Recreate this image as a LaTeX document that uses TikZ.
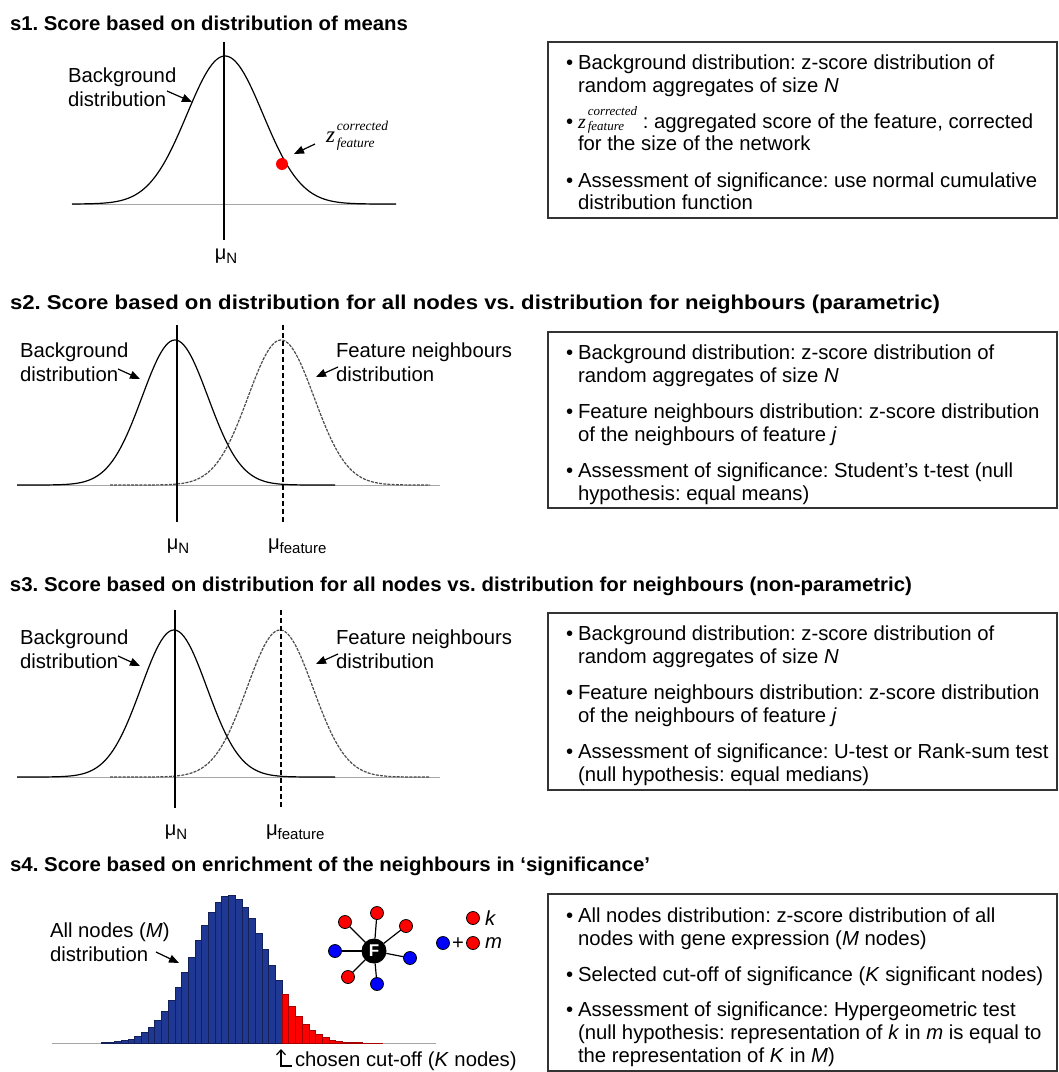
\documentclass[tikz,border=0pt]{standalone}
\usepackage{fontspec}
\setmainfont{Liberation Sans}
\newfontfamily\tms{Liberation Serif}
\usetikzlibrary{arrows.meta}
\newcommand{\zc}[4]{{\tms\itshape\fontsize{#1}{#1}\selectfont z\kern2pt\fontsize{#2}{#2}\selectfont\rlap{\raisebox{-#4pt}{feature}}\raisebox{#3pt}{corrected}}}
\newcommand{\sub}[1]{\raisebox{-4pt}{\fontsize{15}{15}\selectfont #1}}
\newcommand{\wide}[2]{\resizebox{#1pt}{\height}{#2}}
\begin{document}
\frenchspacing
\begin{tikzpicture}[x=1pt,y=-1pt,
  every node/.style={inner sep=0pt, outer sep=0pt},
  ttl/.style={anchor=base west, font=\bfseries\fontsize{20}{24}\selectfont},
  txt/.style={anchor=base west, font=\fontsize{20.3}{24}\selectfont},
  mulab/.style={anchor=base, font=\fontsize{20}{24}\selectfont},
  infobox/.style={draw=black!80, line width=1.2pt},
  curve/.style={line width=1.2pt, line join=round},
  dcurve/.style={line width=1.2pt, draw=black!70, dash pattern=on 3pt off 1.2pt},
  vline/.style={line width=1.5pt},
  dvline/.style={line width=1.5pt, dash pattern=on 5pt off 3pt},
  axisline/.style={draw=black!35, line width=1pt},
  pointer/.style={-{Triangle[length=10pt,width=8pt]}, line width=1.2pt},
  rnode/.style={circle, draw=black, fill=red, line width=0.8pt, minimum size=13pt},
  bnode/.style={circle, draw=black, fill=blue, line width=0.8pt, minimum size=13pt},
  fnode/.style={circle, fill=black, minimum size=25pt, text=white, font=\bfseries\fontsize{17}{17}\selectfont},
  spoke/.style={line width=1.2pt},
]
\useasboundingbox (0,0) rectangle (1059,1072);
\fill[white] (0,0) rectangle (1059,1072);

% ---------------- s1 ----------------
\node[ttl] (t1) at (10,30) {\wide{398}{s1. Score based on distribution of means}};
\draw[axisline] (72,204) -- (396,204);
\draw[curve] plot[domain=72:396, samples=140] (\x, {204-148*exp(-0.5*((\x-225)/38)^2)});
\draw[vline] (224,42) -- (224,240);
\node[mulab] (mu1) at (226,259) {μ\sub{N}};
\node[txt] (bg1a) at (68,82) {Background};
\node[txt] (bg1b) at (68,106) {distribution};
\coordinate (a1t) at (167,91);
\coordinate (a1h) at (192,102);
\draw[pointer] (a1t) -- (a1h);
\node[circle, fill=red, minimum size=12pt] (zdot) at (282,164) {};
\node[anchor=base west] (zlab) at (326,142) {\zc{23}{13.5}{12}{5}};
\coordinate (a2t) at (315,144);
\coordinate (a2h) at (294,154);
\draw[pointer] (a2t) -- (a2h);

\draw[infobox] (548,42) rectangle (1057,218);
\node[txt] (p1a) at (566,69) {•};
\node[txt] (l1a) at (578,69) {Background distribution: z-score distribution of};
\node[txt] (l1b) at (578,92) {random aggregates of size \textit{N}};
\node[txt] (p1b) at (566,128) {•};
\node[txt] (l1c) at (578,128) {\zc{20}{13}{13}{2} : aggregated score of the feature, corrected};
\node[txt] (l1d) at (578,150) {for the size of the network};
\node[txt] (p1c) at (566,187) {•};
\node[txt] (l1e) at (578,187) {Assessment of significance: use normal cumulative};
\node[txt] (l1f) at (578,209) {distribution function};

% ---------------- s2 ----------------
\node[ttl] (t2) at (10,309) {\wide{930}{s2. Score based on distribution for all nodes vs. distribution for neighbours (parametric)}};
\draw[axisline] (17,485) -- (440,485);
\draw[curve] plot[domain=17:335, samples=140] (\x, {485-145*exp(-0.5*((\x-175)/33)^2)});
\draw[dcurve] plot[domain=110:430, samples=140] (\x, {485-145*exp(-0.5*((\x-281)/33)^2)});
\draw[vline] (177,325) -- (177,522);
\draw[dvline] (283,325) -- (283,522);
\node[mulab] (mu2) at (178,549) {μ\sub{N}};
\node[txt] (mf2) at (268,549) {μ\sub{feature}};
\node[txt] (bg2a) at (20,357) {Background};
\node[txt] (bg2b) at (20,381) {distribution};
\coordinate (a3t) at (118,369);
\coordinate (a3h) at (140,379);
\draw[pointer] (a3t) -- (a3h);
\node[txt] (fn2a) at (336,357) {Feature neighbours};
\node[txt] (fn2b) at (336,381) {distribution};
\coordinate (a4t) at (338,367);
\coordinate (a4h) at (316,377);
\draw[pointer] (a4t) -- (a4h);

\draw[infobox] (548,332) rectangle (1057,508);
\node[txt] (p2a) at (566,359) {•};
\node[txt] (l2a) at (578,359) {Background distribution: z-score distribution of};
\node[txt] (l2b) at (578,382) {random aggregates of size \textit{N}};
\node[txt] (p2b) at (566,418) {•};
\node[txt] (l2c) at (578,418) {Feature neighbours distribution: z-score distribution};
\node[txt] (l2d) at (578,441) {of the neighbours of feature \textit{j}};
\node[txt] (p2c) at (566,477) {•};
\node[txt] (l2e) at (578,477) {Assessment of significance: Student’s t-test (null};
\node[txt] (l2f) at (578,500) {hypothesis: equal means)};

% ---------------- s3 ----------------
\node[ttl] (t3) at (10,591) {\wide{902}{s3. Score based on distribution for all nodes vs. distribution for neighbours (non-parametric)}};
\draw[axisline] (17,777) -- (440,777);
\draw[curve] plot[domain=17:335, samples=140] (\x, {777-147*exp(-0.5*((\x-174)/33)^2)});
\draw[dcurve] plot[domain=110:430, samples=140] (\x, {777-147*exp(-0.5*((\x-280)/33)^2)});
\draw[vline] (175,610) -- (175,808);
\draw[dvline] (281,610) -- (281,808);
\node[mulab] (mu3) at (176,835) {μ\sub{N}};
\node[txt] (mf3) at (266,835) {μ\sub{feature}};
\node[txt] (bg3a) at (20,644) {Background};
\node[txt] (bg3b) at (20,668) {distribution};
\coordinate (a5t) at (118,656);
\coordinate (a5h) at (140,666);
\draw[pointer] (a5t) -- (a5h);
\node[txt] (fn3a) at (336,644) {Feature neighbours};
\node[txt] (fn3b) at (336,668) {distribution};
\coordinate (a6t) at (338,654);
\coordinate (a6h) at (316,664);
\draw[pointer] (a6t) -- (a6h);

\draw[infobox] (548,613) rectangle (1057,790);
\node[txt] (p3a) at (566,640) {•};
\node[txt] (l3a) at (578,640) {Background distribution: z-score distribution of};
\node[txt] (l3b) at (578,663) {random aggregates of size \textit{N}};
\node[txt] (p3b) at (566,699) {•};
\node[txt] (l3c) at (578,699) {Feature neighbours distribution: z-score distribution};
\node[txt] (l3d) at (578,722) {of the neighbours of feature \textit{j}};
\node[txt] (p3c) at (566,758) {•};
\node[txt] (l3e) at (578,758) {Assessment of significance: U-test or Rank-sum test};
\node[txt] (l3f) at (578,781) {(null hypothesis: equal medians)};

% ---------------- s4 ----------------
\node[ttl] (t4) at (10,871) {\wide{640}{s4. Score based on enrichment of the neighbours in ‘significance’}};
\draw[axisline] (52,1043) -- (436,1043);
\definecolor{histblue}{RGB}{31,56,148}
\definecolor{histblueedge}{RGB}{20,32,90}
\foreach \n in {-27,...,14}{
  \pgfmathsetmacro\ex{282+\n*6.7}
  \pgfmathsetmacro\ey{1043-148*exp(-0.5*((\ex+3.35-230)/37)^2)}
  \ifnum\n<0
    \filldraw[fill=histblue, draw=histblueedge, line width=0.5pt] (\ex,1043) rectangle ({\ex+6.7},\ey);
  \else
    \filldraw[fill=red, draw=red!65!black, line width=0.5pt] (\ex,1043) rectangle ({\ex+6.7},\ey);
  \fi
}
\node[txt] (an4a) at (50,937) {All nodes (\textit{M})};
\node[txt] (an4b) at (50,961) {distribution};
\coordinate (a7t) at (156,952);
\coordinate (a7h) at (179,963);
\draw[pointer] (a7t) -- (a7h);
\node[txt] (co4) at (295,1066) {chosen cut-off (\textit{K} nodes)};
\coordinate (c1) at (292,1066);
\coordinate (c2) at (281,1066);
\coordinate (c3) at (281,1049);
\draw[line width=1.2pt, -{Straight Barb[length=5pt,width=9pt]}] (c1) -- (c2) -- (c3);

% network
\node[fnode] (F) at (374,951) {F};
\node[rnode] (n1) at (345,922) {};
\node[rnode] (n2) at (377,913) {};
\node[rnode] (n3) at (406,926) {};
\node[bnode] (n4) at (335,951) {};
\node[bnode] (n5) at (410,958) {};
\node[rnode] (n6) at (348,977) {};
\node[bnode] (n7) at (377,984) {};
\foreach \k in {n1,n2,n3,n4,n5,n6,n7}{\draw[spoke] (F) -- (\k);}
\node[rnode] (lk) at (473,918) {};
\node[txt] (tk) at (485,925) {\textit{k}};
\node[bnode] (lb) at (443,943) {};
\node[txt, anchor=base] (tplus) at (458,949) {+};
\node[rnode] (lm) at (473,943) {};
\node[txt] (tm) at (485,948) {\textit{m}};

\draw[infobox] (548,894) rectangle (1057,1071);
\node[txt] (p4a) at (566,922) {•};
\node[txt] (l4a) at (578,922) {All nodes distribution: z-score distribution of all};
\node[txt] (l4b) at (578,945) {nodes with gene expression (\textit{M} nodes)};
\node[txt] (p4b) at (566,981) {•};
\node[txt] (l4c) at (578,981) {Selected cut-off of significance (\textit{K} significant nodes)};
\node[txt] (p4c) at (566,1016) {•};
\node[txt] (l4d) at (578,1016) {Assessment of significance: Hypergeometric test};
\node[txt] (l4e) at (578,1039) {(null hypothesis: representation of \textit{k} in \textit{m} is equal to};
\node[txt] (l4f) at (578,1062) {the representation of \textit{K} in \textit{M})};
\end{tikzpicture}
\end{document}
